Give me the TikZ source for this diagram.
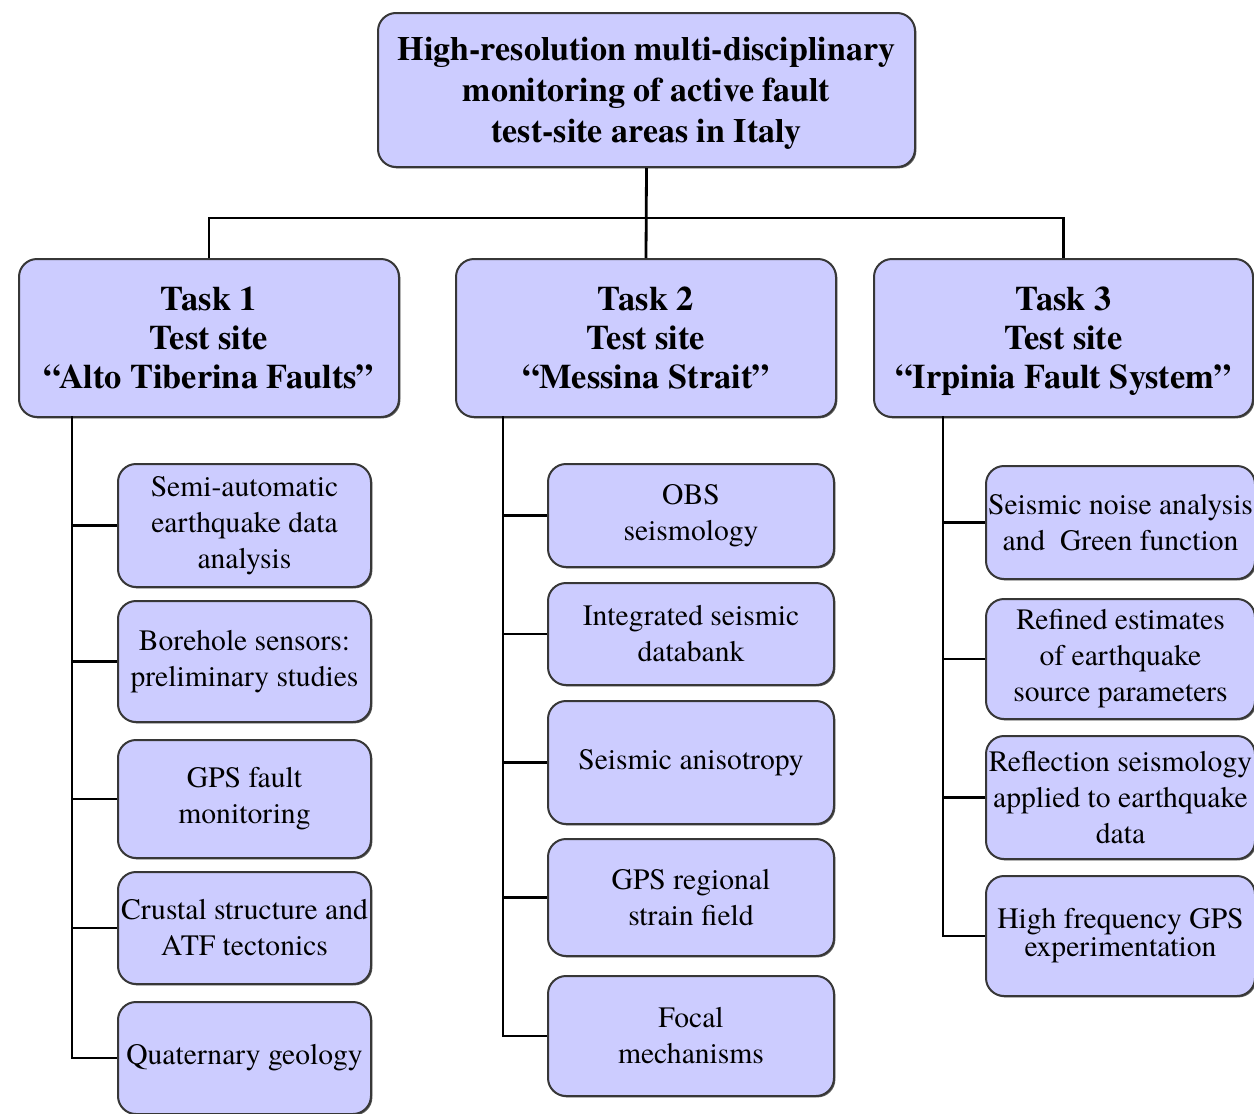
\documentclass[tikz,border=0pt]{standalone}
\usepackage{fontspec}
\setmainfont{texgyretermes}[Extension=.otf, UprightFont=*-regular, BoldFont=*-bold, ItalicFont=*-italic, BoldItalicFont=*-bolditalic]
\usetikzlibrary{shadows}
\definecolor{boxfill}{RGB}{204,204,255}
\definecolor{boxline}{RGB}{55,55,55}
\begin{document}
\begin{tikzpicture}[x=0.5pt,y=-0.5pt,
  box/.style={draw=boxline, line width=1pt, fill=boxfill, rounded corners=9pt,
    anchor=north west, inner sep=0pt, align=center,
    drop shadow={shadow xshift=0.7pt, shadow yshift=-0.7pt, fill=black!75, opacity=0.85}},
  titlebox/.style={box, font=\bfseries\fontsize{17}{20.5}\selectfont},
  taskbox/.style={box, font=\bfseries\fontsize{17.2}{19.5}\selectfont},
  subbox/.style={box, font=\fontsize{14.8}{18}\selectfont},
  link/.style={line width=1.4pt, black}]
\useasboundingbox (0,0) rectangle (1254,1114);

% top
\node[titlebox, minimum width=268.5pt, minimum height=77pt] (top) at (377,12)
  {High-resolution multi-disciplinary\\monitoring of active fault\\\smash{test-site areas in Italy}};

% tasks
\node[taskbox, minimum width=190pt, minimum height=79pt] (t1) at (18,258)
  {Task 1\\Test site\\``Alto Tiberina Faults''};
\node[taskbox, minimum width=190pt, minimum height=79pt] (t2) at (455,258)
  {Task 2\\Test site\\``Messina Strait''};
\node[taskbox, minimum width=189.5pt, minimum height=79pt] (t3) at (873,258)
  {Task 3\\Test site\\\smash{``Irpinia Fault System''}};

% task 1 children
\node[subbox, minimum width=126.5pt, minimum height=61.5pt] (c11) at (117,463)
  {Semi-automatic\\earthquake data\\analysis};
\node[subbox, minimum width=126.5pt, minimum height=60.5pt] (c12) at (117,600)
  {Borehole sensors:\\preliminary studies};
\node[subbox, minimum width=126.5pt, minimum height=59pt] (c13) at (117,739)
  {GPS fault\\monitoring};
\node[subbox, minimum width=126.5pt, minimum height=56pt] (c14) at (117,871)
  {Crustal structure and\\ATF tectonics};
\node[subbox, minimum width=126.5pt, minimum height=56pt] (c15) at (117,1001)
  {Quaternary geology};

% task 2 children
\node[subbox, minimum width=143pt, minimum height=51.5pt] (c21) at (547,463)
  {OBS\\seismology};
\node[subbox, minimum width=143pt, minimum height=51pt] (c22) at (547,582)
  {Integrated seismic\\databank};
\node[subbox, minimum width=143pt, minimum height=61.5pt] (c23) at (547,700)
  {Seismic anisotropy};
\node[subbox, minimum width=143pt, minimum height=58.5pt] (c24) at (547,838)
  {GPS regional\\strain field};
\node[subbox, minimum width=143pt, minimum height=60pt] (c25) at (547,975)
  {Focal\\mechanisms};

% task 3 children
\node[subbox, minimum width=134.5pt, minimum height=56.5pt] (c31) at (985,465)
  {Seismic noise analysis\\and~ Green function};
\node[subbox, minimum width=134.5pt, minimum height=60pt] (c32) at (985,598)
  {Refined estimates\\of earthquake\\source parameters};
\node[subbox, minimum width=134.5pt, minimum height=61.5pt] (c33) at (985,735)
  {Reflection seismology\\applied to earthquake\\data};
\node[subbox, minimum width=134.5pt, minimum height=60pt] (c34) at (985,875)
  {High frequency GPS\\[-4pt]experimentation};

% connectors top level
\coordinate (bus) at (645,218);
\draw[link] (top.south) -- (t2.north);
\draw[link] (t1.north) -- (t1.north |- bus) -- (t3.north |- bus) -- (t3.north);

% spines
\coordinate (s1) at (72,416);
\coordinate (s2) at (503,416);
\coordinate (s3) at (943,416);
\foreach \c in {c11,c12,c13,c14,c15} \draw[link] (s1) |- (\c.west);
\foreach \c in {c21,c22,c23,c24,c25} \draw[link] (s2) |- (\c.west);
\foreach \c in {c31,c32,c33,c34} \draw[link] (s3) |- (\c.west);
\end{tikzpicture}
\end{document}
